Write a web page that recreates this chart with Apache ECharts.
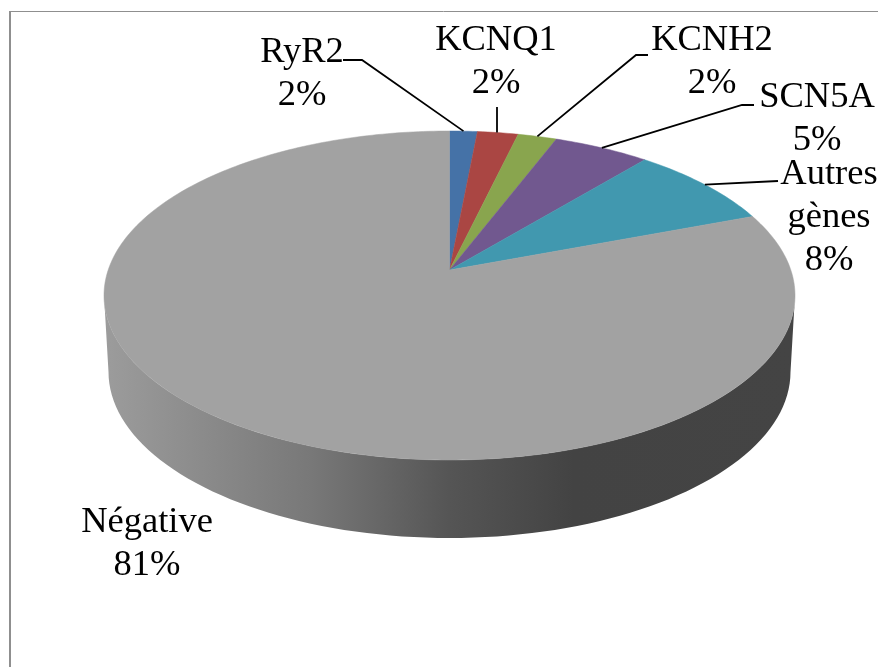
<!DOCTYPE html>
<html>
<head>
<meta charset="utf-8">
<style>
  html, body { margin: 0; padding: 0; background: #fff; }
  #chart { width: 878px; height: 667px; }
</style>
<script src="https://cdn.jsdelivr.net/npm/echarts@6/dist/echarts.min.js"></script>
</head>
<body>
<div id="chart"></div>
<script>
// slices clockwise from 12 o'clock
const categories = ["RyR2", "KCNQ1", "KCNH2", "SCN5A", "Autres\ngènes", "Négative"];
const values = [1.5, 2.2, 2.1, 5.2, 8.2, 80.8];
const colors = ["#4572a7", "#aa4643", "#89a54e", "#71588f", "#4198af", "#a2a2a2"];

// label centre and leader elbow, by slice
const labelPos = [[302, 74], [496, 62], [712, 62], [817, 119], [829, 217], [147, 544]];
const leaderStart = [[343, 60], [497, 107], [648, 55], [754, 105], [778, 181], null];
const leaderElbow = [[362, 60], null, [636, 55], [742, 105], null, null];

const total = values.reduce((a, b) => a + b, 0);

// pie geometry of the tilted disc
const cx = 449.5, cy = 295.5, rx = 345.5, ry = 164.5;
const apex = [449.5, 270];
const tilt = 0.86; // back of the disc looks squeezed
const wallCy = 372, wallRx = 341, wallRy = 166;

function rimPoint(frac) {
  const a = frac * 2 * Math.PI;
  // keep the quadrant when the half angle passes 90deg
  const t = 2 * Math.atan2(tilt * Math.sin(a / 2), Math.cos(a / 2));
  return [cx + rx * Math.sin(t), cy - ry * Math.cos(t)];
}

function renderWall() {
  const pts = [];
  for (let i = 0; i <= 90; i++) {
    const t = Math.PI * i / 90;
    pts.push([cx - rx * Math.cos(t), cy + ry * Math.sin(t)]);
  }
  for (let i = 90; i >= 0; i--) {
    const t = Math.PI * i / 90;
    pts.push([cx - wallRx * Math.cos(t), wallCy + wallRy * Math.sin(t)]);
  }
  return {
    type: "polygon",
    shape: { points: pts },
    style: {
      fill: new echarts.graphic.LinearGradient(0, 0, 1, 0, [
        { offset: 0, color: "#9c9c9c" },
        { offset: 0.3, color: "#787878" },
        { offset: 0.5, color: "#555555" },
        { offset: 0.68, color: "#434343" },
        { offset: 1, color: "#444444" },
      ]),
    },
  };
}

function renderSlice(params, api) {
  const i = params.dataIndex;
  const start = values.slice(0, i).reduce((a, b) => a + b, 0) / total;
  const end = start + api.value(0) / total;
  const pts = [apex];
  const steps = Math.max(4, Math.ceil((end - start) * 360));
  for (let s = 0; s <= steps; s++) {
    pts.push(rimPoint(start + (end - start) * s / steps));
  }
  const children = [{
    type: "polygon",
    shape: { points: pts },
    style: { fill: colors[i], stroke: colors[i], lineWidth: 0.5 },
  }];
  if (leaderStart[i]) {
    const line = [leaderStart[i]];
    if (leaderElbow[i]) line.push(leaderElbow[i]);
    const end2 = rimPoint((start + end) / 2);
    line.push(leaderElbow[i] ? end2 : [line[0][0], end2[1]]);
    if (i === 4) line[line.length - 1] = end2;
    children.push({
      type: "polyline",
      shape: { points: line },
      style: { fill: null, stroke: "#000", lineWidth: 1.8 },
    });
  }
  children.push({
    type: "text",
    x: labelPos[i][0],
    y: labelPos[i][1],
    style: {
      text: categories[i] + "\n" + Math.round(api.value(0)) + "%",
      fill: "#000",
      font: '36.5px "Liberation Serif", serif',
      lineHeight: 43,
      align: "center",
      verticalAlign: "middle",
    },
  });
  return { type: "group", children: children };
}

const chart = echarts.init(document.getElementById("chart"), null, { renderer: "canvas" });
chart.setOption({
  animation: false,
  backgroundColor: "#fff",
  // outer chart frame, only top and left fall inside the crop
  graphic: [
    {
      type: "line",
      shape: { x1: 10, y1: 11, x2: 10, y2: 667 },
      style: { stroke: "#8f8f8f", lineWidth: 2 },
    },
    {
      type: "line",
      shape: { x1: 9, y1: 11.5, x2: 878, y2: 11.5 },
      style: { stroke: "#8f8f8f", lineWidth: 1 },
    },
  ],
  series: [
    { type: "custom", coordinateSystem: "none", silent: true, z: 1, data: [0], renderItem: renderWall },
    { type: "custom", coordinateSystem: "none", silent: true, z: 2, data: values.map((v) => [v]), renderItem: renderSlice },
  ],
});
</script>
</body>
</html>
